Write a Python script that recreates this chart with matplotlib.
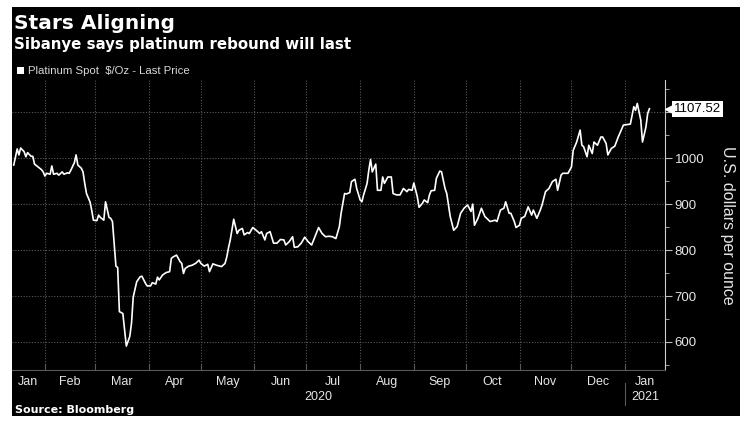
import matplotlib
matplotlib.use("Agg")
import matplotlib.pyplot as plt
import matplotlib.transforms as mtransforms
from matplotlib.patches import Rectangle
import pandas as pd

# Platinum spot, $/oz
dates = [
    "2020-01-14", "2020-01-16", "2020-01-17", "2020-01-18", "2020-01-20", "2020-01-21",
    "2020-01-22", "2020-01-24", "2020-01-25", "2020-01-26", "2020-01-28", "2020-01-30",
    "2020-01-31", "2020-02-01", "2020-02-02", "2020-02-04", "2020-02-05", "2020-02-06",
    "2020-02-08", "2020-02-09", "2020-02-11", "2020-02-12", "2020-02-14", "2020-02-15",
    "2020-02-16", "2020-02-18", "2020-02-19", "2020-02-20", "2020-02-22", "2020-02-23",
    "2020-02-24", "2020-02-25", "2020-02-27", "2020-02-28", "2020-02-29", "2020-03-02",
    "2020-03-03", "2020-03-04", "2020-03-06", "2020-03-07", "2020-03-09", "2020-03-10",
    "2020-03-11", "2020-03-12", "2020-03-13", "2020-03-14", "2020-03-15", "2020-03-17",
    "2020-03-18", "2020-03-19", "2020-03-21", "2020-03-22", "2020-03-23", "2020-03-25",
    "2020-03-27", "2020-03-28", "2020-03-30", "2020-03-31", "2020-04-02", "2020-04-03",
    "2020-04-05", "2020-04-06", "2020-04-07", "2020-04-09", "2020-04-11", "2020-04-13",
    "2020-04-14", "2020-04-15", "2020-04-17", "2020-04-19", "2020-04-20", "2020-04-21",
    "2020-04-22", "2020-04-24", "2020-04-26", "2020-04-28", "2020-04-30", "2020-05-01",
    "2020-05-03", "2020-05-05", "2020-05-06", "2020-05-08", "2020-05-10", "2020-05-13",
    "2020-05-15", "2020-05-16", "2020-05-17", "2020-05-18", "2020-05-20", "2020-05-22",
    "2020-05-23", "2020-05-25", "2020-05-26", "2020-05-28", "2020-05-29", "2020-05-31",
    "2020-06-02", "2020-06-04", "2020-06-05", "2020-06-07", "2020-06-08", "2020-06-10",
    "2020-06-12", "2020-06-14", "2020-06-16", "2020-06-18", "2020-06-19", "2020-06-21",
    "2020-06-23", "2020-06-24", "2020-06-26", "2020-06-28", "2020-06-30", "2020-07-02",
    "2020-07-04", "2020-07-06", "2020-07-08", "2020-07-10", "2020-07-12", "2020-07-14",
    "2020-07-16", "2020-07-18", "2020-07-20", "2020-07-21", "2020-07-23", "2020-07-24",
    "2020-07-26", "2020-07-27", "2020-07-29", "2020-07-30", "2020-08-01", "2020-08-02",
    "2020-08-03", "2020-08-05", "2020-08-06", "2020-08-07", "2020-08-08", "2020-08-10",
    "2020-08-11", "2020-08-13", "2020-08-14", "2020-08-15", "2020-08-17", "2020-08-19",
    "2020-08-20", "2020-08-22", "2020-08-24", "2020-08-26", "2020-08-28", "2020-08-29",
    "2020-08-31", "2020-09-01", "2020-09-03", "2020-09-04", "2020-09-06", "2020-09-07",
    "2020-09-09", "2020-09-10", "2020-09-11", "2020-09-13", "2020-09-14", "2020-09-16",
    "2020-09-17", "2020-09-19", "2020-09-20", "2020-09-22", "2020-09-24", "2020-09-26",
    "2020-09-28", "2020-09-30", "2020-10-02", "2020-10-04", "2020-10-05", "2020-10-06",
    "2020-10-08", "2020-10-10", "2020-10-12", "2020-10-15", "2020-10-18", "2020-10-19",
    "2020-10-21", "2020-10-23", "2020-10-24", "2020-10-26", "2020-10-27", "2020-10-29",
    "2020-10-30", "2020-11-01", "2020-11-02", "2020-11-04", "2020-11-06", "2020-11-08",
    "2020-11-09", "2020-11-11", "2020-11-13", "2020-11-14", "2020-11-16", "2020-11-18",
    "2020-11-20", "2020-11-22", "2020-11-23", "2020-11-25", "2020-11-26", "2020-11-29",
    "2020-12-01", "2020-12-02", "2020-12-04", "2020-12-06", "2020-12-07", "2020-12-08",
    "2020-12-10", "2020-12-11", "2020-12-13", "2020-12-14", "2020-12-16", "2020-12-18",
    "2020-12-19", "2020-12-21", "2020-12-22", "2020-12-24", "2020-12-26", "2020-12-28",
    "2020-12-31", "2021-01-02", "2021-01-04", "2021-01-06", "2021-01-07", "2021-01-08",
    "2021-01-10", "2021-01-11", "2021-01-13", "2021-01-14", "2021-01-15",
]
prices = [
    985, 1020, 1007, 1022, 1014, 1003,
    1012, 1004, 1004, 987, 981, 975,
    970, 961, 967, 965, 983, 965,
    967, 963, 970, 965, 968, 967,
    974, 990, 1007, 985, 978, 970,
    945, 923, 905, 887, 865, 864,
    876, 871, 865, 905, 871, 869,
    862, 815, 765, 762, 666, 662,
    626, 591, 612, 641, 698, 731,
    742, 743, 728, 722, 722, 729,
    726, 741, 735, 746, 751, 753,
    782, 785, 789, 775, 771, 749,
    760, 765, 767, 771, 778, 771,
    765, 769, 753, 770, 767, 764,
    771, 785, 805, 822, 867, 836,
    843, 847, 833, 838, 836, 849,
    843, 836, 840, 822, 836, 840,
    815, 815, 823, 822, 811, 818,
    829, 806, 807, 815, 828, 818,
    811, 830, 849, 836, 829, 830,
    829, 825, 851, 880, 923, 922,
    925, 949, 954, 934, 909, 905,
    920, 945, 974, 997, 970, 987,
    930, 930, 959, 945, 959, 959,
    923, 920, 920, 934, 927, 932,
    930, 946, 916, 893, 902, 909,
    903, 920, 929, 930, 956, 972,
    970, 934, 923, 873, 843, 851,
    880, 891, 898, 884, 900, 854,
    869, 891, 873, 862, 865, 862,
    887, 891, 905, 880, 880, 862,
    849, 854, 869, 873, 894, 876,
    887, 869, 887, 898, 927, 934,
    949, 954, 930, 963, 967, 967,
    981, 1017, 1035, 1061, 1028, 1025,
    1003, 1028, 1010, 1035, 1028, 1046,
    1046, 1032, 1007, 1021, 1026, 1046,
    1072, 1073, 1074, 1112, 1104, 1119,
    1083, 1035, 1068, 1097, 1107.52,
]
last_price = 1107.52

month_labels = ["Jan", "Feb", "Mar", "Apr", "May", "Jun", "Jul",
                "Aug", "Sep", "Oct", "Nov", "Dec", "Jan"]
year_labels = ["2020", "2021"]
y_ticks = [600, 700, 800, 900, 1000, 1100]
y_ticklabels = ["600", "700", "800", "900", "1000", ""]

x_start = pd.Timestamp("2020-01-13")
x_end = pd.Timestamp("2021-01-24")

txt = "#e6e6e6"
grid = "#5a5a5a"

plt.rcParams["font.family"] = ["Liberation Sans", "DejaVu Sans"]

fig = plt.figure(figsize=(7.53, 4.29), dpi=100, facecolor="white")
fig.patches.append(Rectangle((12 / 753, 13 / 429), 728 / 753, 409 / 429,
                             transform=fig.transFigure, facecolor="black",
                             edgecolor="none", zorder=-5))

ax = fig.add_axes([12 / 753, 59 / 429, 653 / 753, 290 / 429])
ax.set_zorder(2)
ax.set_facecolor("black")

x = pd.to_datetime(dates)
ax.plot(x, prices, color="white", lw=1.2, zorder=3)

ax.set_xlim(x_start, x_end)
ax.set_ylim(539, 1170)

# month ticks / grid
month_starts = pd.date_range("2020-02-01", "2021-01-01", freq="MS")
ax.set_xticks(month_starts)
ax.set_xticklabels([])
ax.tick_params(axis="x", which="major", direction="in", length=4, color=grid)

bounds = [x_start] + list(month_starts) + [x_end]
mids = [a + (b - a) / 2 for a, b in zip(bounds[:-1], bounds[1:])]
ax.set_xticks(mids, minor=True)
ax.set_xticklabels(month_labels, minor=True, color=txt, fontsize=9)
ax.tick_params(axis="x", which="minor", length=0, pad=4)

ax.yaxis.tick_right()
ax.set_yticks(y_ticks)
ax.set_yticklabels(y_ticklabels, color=txt, fontsize=9.5)
ax.set_yticks(range(550, 1200, 50), minor=True)
ax.tick_params(axis="y", which="major", length=5, color="#bbbbbb", pad=2)
ax.tick_params(axis="y", which="minor", length=3, color="#bbbbbb")

ax.grid(True, which="major", color=grid, ls=(0, (1, 1.5)), lw=0.8)

for side in ["top", "left"]:
    ax.spines[side].set_visible(False)
ax.spines["right"].set_color("#cccccc")
ax.spines["bottom"].set_color(grid)

# year row
tr = mtransforms.blended_transform_factory(ax.transData, ax.transAxes)
year_mids = [x_start + (month_starts[-1] - x_start) / 2,
             month_starts[-1] + (x_end - month_starts[-1]) / 2]
for xm, lab in zip(year_mids, year_labels):
    ax.text(xm, -0.073, lab, transform=tr, ha="center", va="top",
            color=txt, fontsize=9)
ax.plot([month_starts[-1]] * 2, [-0.045, -0.12], transform=tr,
        color=grid, lw=0.8, clip_on=False)

# last price tag
trp = mtransforms.blended_transform_factory(ax.transAxes, ax.transData)
ax.plot([1.006], [last_price], marker="<", ms=6, color="white",
        transform=trp, clip_on=False, zorder=5)
ax.text(1.013, last_price, f"{last_price:.2f}", transform=trp, ha="left",
        va="center", fontsize=9.5, color="black", zorder=6,
        bbox=dict(boxstyle="square,pad=0.15", fc="white", ec="none"))

fig.text(727 / 753, 0.475, "U.S. dollars per ounce", rotation=270,
         ha="center", va="center", color=txt, fontsize=11.5)

# titles
fig.text(14 / 753, 1 - 29 / 429, "Stars Aligning", color="white",
         fontsize=14.5, fontweight="bold", va="baseline", family="DejaVu Sans")
fig.text(14 / 753, 1 - 49 / 429, "Sibanye says platinum rebound will last",
         color="white", fontsize=10.8, fontweight="bold", va="baseline",
         family="DejaVu Sans")
fig.patches.append(Rectangle((17 / 753, 1 - 74 / 429), 7 / 753, 7 / 429,
                             transform=fig.transFigure, facecolor="white",
                             edgecolor="none"))
fig.text(28 / 753, 1 - 74 / 429, "Platinum Spot  $/Oz - Last Price",
         color="#d8d8d8", fontsize=8.2, va="baseline")
fig.text(15 / 753, 1 - 413 / 429, "Source: Bloomberg", color="white",
         fontsize=8, fontweight="bold", va="baseline", family="DejaVu Sans")

fig.savefig("out.png", dpi=100, facecolor="white")
